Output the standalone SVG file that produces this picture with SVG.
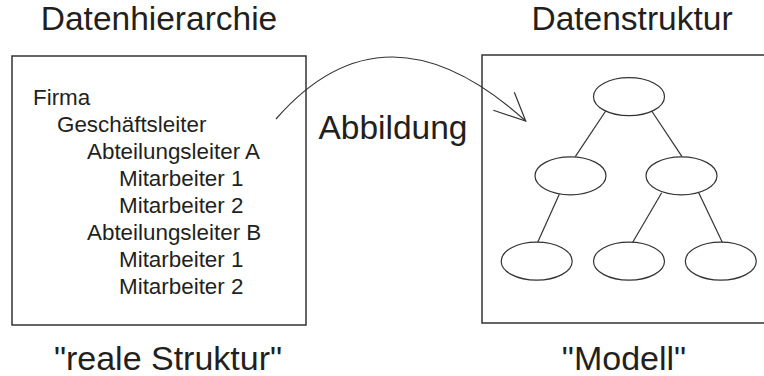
<svg xmlns="http://www.w3.org/2000/svg" width="764" height="376" viewBox="0 0 764 376">
<style>
text{font-family:"Liberation Sans",Arial,sans-serif;fill:#231f20}
.t{font-size:33.5px}
.l{font-size:22.4px}
.b{font-size:34px}
.box{fill:none;stroke:#333;stroke-width:1.5}
.n{fill:#fff;stroke:#333;stroke-width:1.2}
.e{stroke:#333;stroke-width:1.2;fill:none}
</style>
<rect width="764" height="376" fill="#fff"/>
<text class="t" x="159" y="30" text-anchor="middle">Datenhierarchie</text>
<text class="t" x="632" y="30" text-anchor="middle">Datenstruktur</text>
<g id="hierarchy">
<rect class="box" x="12" y="56" width="294" height="269"/>
<text class="l" x="33" y="105">Firma</text>
<text class="l" x="57" y="132">Geschäftsleiter</text>
<text class="l" x="87" y="158.5">Abteilungsleiter A</text>
<text class="l" x="119" y="185.5">Mitarbeiter 1</text>
<text class="l" x="119" y="212.5">Mitarbeiter 2</text>
<text class="l" x="87" y="239.5">Abteilungsleiter B</text>
<text class="l" x="119" y="266.5">Mitarbeiter 1</text>
<text class="l" x="119" y="293.5">Mitarbeiter 2</text>
</g>
<g id="structure">
<rect class="box" x="482" y="55" width="300" height="268"/>
</g>
<g id="connectors">
<path class="e" d="M276,119 Q385,-6 525.7,121"/>
<path class="e" d="M514.3,92.3 L525.7,121 L493.3,110.3"/>
<line class="e" x1="605.7" y1="111" x2="575.3" y2="156.7"/>
<line class="e" x1="651.7" y1="111" x2="682" y2="156.7"/>
<line class="e" x1="559.3" y1="194.3" x2="537.7" y2="242.3"/>
<line class="e" x1="661.7" y1="192.7" x2="632.7" y2="242.3"/>
<line class="e" x1="698.7" y1="192.7" x2="722.3" y2="242.3"/>
</g>
<g id="n0"><ellipse class="n" cx="629" cy="96.7" rx="35.5" ry="19"/></g>
<g id="n1"><ellipse class="n" cx="570.5" cy="175.8" rx="35.5" ry="19"/></g>
<g id="n2"><ellipse class="n" cx="681.5" cy="175.8" rx="35.5" ry="19"/></g>
<g id="n3"><ellipse class="n" cx="536.7" cy="261.2" rx="35.5" ry="19"/></g>
<g id="n4"><ellipse class="n" cx="629" cy="261.2" rx="35.5" ry="19"/></g>
<g id="n5"><ellipse class="n" cx="720.8" cy="261.2" rx="35.5" ry="19"/></g>
<text class="t" x="393" y="139" text-anchor="middle">Abbildung</text>
<text class="b" x="168" y="370" text-anchor="middle">"reale Struktur"</text>
<text class="b" x="624" y="370" text-anchor="middle">"Modell"</text>
</svg>
